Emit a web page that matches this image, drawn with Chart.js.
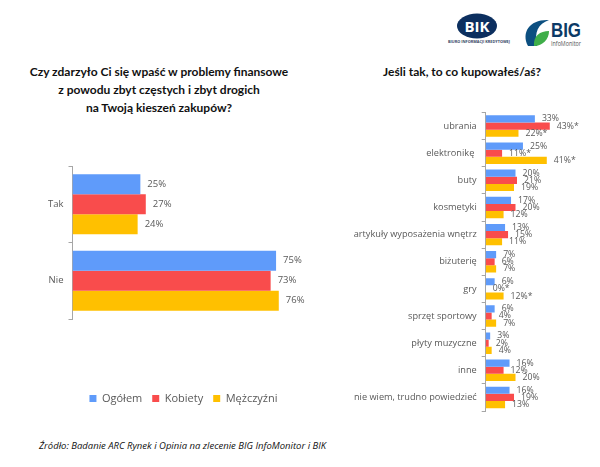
<!DOCTYPE html>
<html lang="pl"><head><meta charset="utf-8">
<script src="https://cdn.jsdelivr.net/npm/chart.js@4"></script>
<style>
html,body{margin:0;padding:0;background:#fff;width:600px;height:467px;overflow:hidden;font-family:"Open Sans",sans-serif}
.t{position:absolute;color:#111;font-family:Lato,sans-serif;font-weight:700;font-size:12px;line-height:18px;text-align:center;white-space:nowrap}
canvas{position:absolute}
#src{position:absolute;left:39px;top:439px;font-style:italic;font-size:9.5px;color:#111;white-space:nowrap}
#logos{position:absolute;left:440px;top:10px}
</style></head><body>
<svg id="logos" width="150" height="40" viewBox="440 10 150 40">
<ellipse cx="477" cy="26" rx="20" ry="12.5" fill="#0c2f5f"/>
<text x="477" y="31.5" font-family="Open Sans" font-weight="700" font-size="15" fill="#fff" text-anchor="middle">BIK</text>
<text x="479" y="43" font-family="Open Sans" font-weight="700" font-size="3.6" fill="#33435f" text-anchor="middle" textLength="62" lengthAdjust="spacingAndGlyphs">BIURO INFORMACJI KREDYTOWEJ</text>
<path d="M528 46 C521 32 530 19 549 20 C538 24 534 32 537 46 Z" fill="#0c4f80"/>
<path d="M534 46 C533 36 540 31 549 31 C549 39 543 46 534 46 Z" fill="#3fae49"/>
<text x="551" y="37" font-family="Liberation Sans Narrow,Liberation Sans" font-weight="700" font-size="21" fill="#0c3a66" textLength="30" lengthAdjust="spacingAndGlyphs">BIG</text>
<text x="551" y="46" font-family="Open Sans" font-size="7" fill="#555" textLength="30" lengthAdjust="spacingAndGlyphs">InfoMonitor</text>
</svg>
<div class="t" style="left:29px;top:63px;width:260px">Czy zdarzyło Ci się wpaść w problemy finansowe<br>z powodu zbyt częstych i zbyt drogich<br>na Twoją kieszeń zakupów?</div>
<div class="t" style="left:382px;top:63px;width:160px">Jeśli tak, to co kupowałeś/aś?</div>
<canvas id="left" style="left:0;top:160px;width:367px;height:254px"></canvas>
<canvas id="right" style="left:330px;top:106px;width:270px;height:312px"></canvas>
<div id="src">Źródło: Badanie ARC Rynek i Opinia na zlecenie BIG InfoMonitor i BIK</div>
<script>
const seriesNames = ["Ogółem", "Kobiety", "Mężczyźni"];
const seriesColors = ["#5F9BFA", "#F94C4C", "#FFC000"];

const leftCategories = ["Tak", "Nie"];
const leftOgolem = [25, 75];
const leftKobiety = [27, 73];
const leftMezczyzni = [24, 76];
const leftOgolemLabels = ["25%", "75%"];
const leftKobietyLabels = ["27%", "73%"];
const leftMezczyzniLabels = ["24%", "76%"];

const rightCategories = ["ubrania", "elektronikę ", "buty", "kosmetyki", "artykuły wyposażenia wnętrz", "biżuterię", "gry", "sprzęt sportowy", "płyty muzyczne", "inne", "nie wiem, trudno powiedzieć"];
const rightOgolem = [33, 25, 20, 17, 13, 7, 6, 6, 3, 16, 16];
const rightKobiety = [43, 11, 21, 20, 15, 6, 0, 4, 2, 12, 19];
const rightMezczyzni = [22, 41, 19, 12, 11, 7, 12, 7, 4, 20, 13];
const rightOgolemLabels = ["33%", "25%", "20%", "17%", "13%", "7%", "6%", "6%", "3%", "16%", "16%"];
const rightKobietyLabels = ["43%*", "11%*", "21%", "20%", "15%", "6%", "0%*", "4%", "2%", "12%", "19%"];
const rightMezczyzniLabels = ["22%*", "41%*", "19%", "12%", "11%", "7%", "12%*", "7%", "4%", "20%", "13%"];

const valueLabels = {
  id: "valueLabels",
  afterDatasetsDraw(chart, args, opts) {
    const ctx = chart.ctx;
    ctx.save();
    ctx.font = opts.font;
    ctx.fillStyle = "#595959";
    ctx.textBaseline = "middle";
    chart.data.datasets.forEach((ds, i) => {
      chart.getDatasetMeta(i).data.forEach((el, j) => {
        ctx.fillText(ds.valueText[j], el.x + opts.gap, el.y);
      });
    });
    ctx.restore();
  }
};

function build(id, cats, sets, texts, cfg) {
  return new Chart(document.getElementById(id), {
    type: "bar",
    plugins: [valueLabels],
    data: {
      labels: cats,
      datasets: sets.map((d, i) => ({
        label: seriesNames[i], data: d, valueText: texts[i],
        backgroundColor: seriesColors[i], borderWidth: 0,
        categoryPercentage: cfg.cat, barPercentage: 1
      }))
    },
    options: {
      indexAxis: "y", responsive: false, animation: false,
      layout: { padding: cfg.padding },
      scales: {
        x: {
          min: 0, max: cfg.max, display: cfg.gapBelow > 0,
          ticks: { display: false },
          grid: { display: false },
          border: { display: false },
          afterFit(s) { s.height = cfg.gapBelow; }
        },
        y: {
          afterFit(s) { s.width = cfg.axisWidth; s.paddingTop = 0; s.paddingBottom = 0; },
          ticks: { color: "#595959", font: { family: "Open Sans", size: cfg.tickSize }, padding: cfg.tickPad, autoSkip: false },
          grid: { drawOnChartArea: false, color: "#a6a6a6", tickLength: 4, tickWidth: 1, offset: true },
          border: { color: "#a6a6a6" }
        }
      },
      plugins: {
        tooltip: { enabled: false },
        valueLabels: { font: cfg.valueSize + "px 'Open Sans'", gap: 7 },
        legend: cfg.legend
      }
    }
  });
}

function sizeCanvas(id, w, h) { const c = document.getElementById(id); c.width = w; c.height = h; }
sizeCanvas("left", 367, 254);
sizeCanvas("right", 270, 312);

build("left", leftCategories, [leftOgolem, leftKobiety, leftMezczyzni],
  [leftOgolemLabels, leftKobietyLabels, leftMezczyzniLabels],
  { cat: 0.785, max: 108.5, axisWidth: 72.5, tickSize: 9.5, valueSize: 9.5, tickPad: 5, gapBelow: 64, padding: { top: 6, bottom: 0, left: 0, right: 0 },
    legend: { display: true, position: "bottom",
      labels: { boxWidth: 7, boxHeight: 7, padding: 10, color: "#595959", font: { family: "Open Sans", size: 11 } } } });

build("right", rightCategories, [rightOgolem, rightKobiety, rightMezczyzni],
  [rightOgolemLabels, rightKobietyLabels, rightMezczyzniLabels],
  { cat: 0.79, max: 76.7, axisWidth: 155.7, tickSize: 9.2, valueSize: 8.7, tickPad: 5, gapBelow: 0, padding: { top: 6.5, bottom: 7, left: 0, right: 0 },
    legend: { display: false } });
</script>
</body></html>
